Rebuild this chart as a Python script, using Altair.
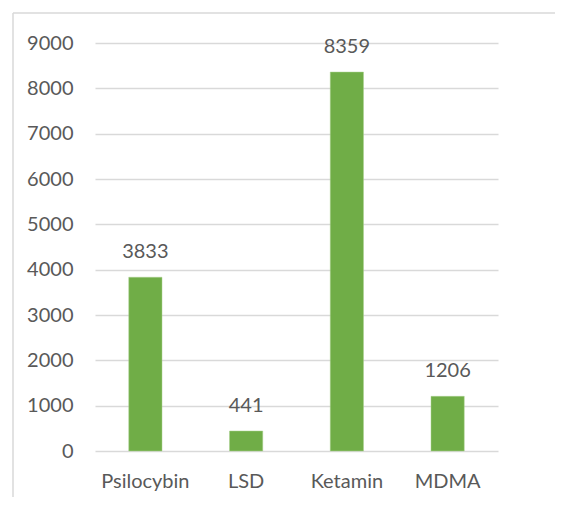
import altair as alt
import pandas as pd

categories = ["Psilocybin", "LSD", "Ketamin", "MDMA"]
values = [3833, 441, 8359, 1206]

df = pd.DataFrame({"drug": categories, "count": values})

FONT = "Lato"
TXT = "#595959"
GRID = "#d9d9d9"
FS = 20

base = alt.Chart(df)

x = alt.X("drug:N", sort=categories, title=None,
          scale=alt.Scale(paddingInner=0.67, paddingOuter=0.335),
          axis=alt.Axis(labelAngle=0, domain=False, ticks=False, labelPadding=20,
                        labelFontSize=FS, labelColor=TXT, labelFont=FONT, grid=False))
y = alt.Y("count:Q", title=None,
          scale=alt.Scale(domain=[0, 9000], nice=False),
          axis=alt.Axis(values=list(range(0, 9001, 1000)), format="d", domain=False, ticks=False,
                        labelPadding=22, labelFontSize=FS, labelColor=TXT, labelFont=FONT,
                        gridColor=GRID, gridWidth=1.5))

bars = base.mark_bar(color="#70AD47", stroke="#a9d18e", strokeWidth=0.5).encode(x=x, y=y)
labels = base.mark_text(baseline="middle", dy=-25, fontSize=FS, font=FONT, color=TXT).encode(
    x=alt.X("drug:N", sort=categories), y="count:Q", text="count:Q")

frame = alt.Chart(pd.DataFrame({"a": [0]}))
top_line = frame.mark_rule(color=GRID, strokeWidth=1.5, strokeCap="butt").encode(
    x=alt.value(-82), x2=alt.value(462), y=alt.value(-30))
left_line = frame.mark_rule(color=GRID, strokeWidth=1.5, strokeCap="butt").encode(
    x=alt.value(-82), y=alt.value(-30), y2=alt.value(456))

chart = alt.layer(bars, labels, top_line, left_line).properties(
    width=403, height=408,
    autosize=alt.AutoSizeParams(type="none"),
    padding={"left": 87, "top": 35, "right": 57, "bottom": 46},
).configure_view(stroke=None)

chart.save("out.html", embed_options={"renderer": "svg", "actions": False})
